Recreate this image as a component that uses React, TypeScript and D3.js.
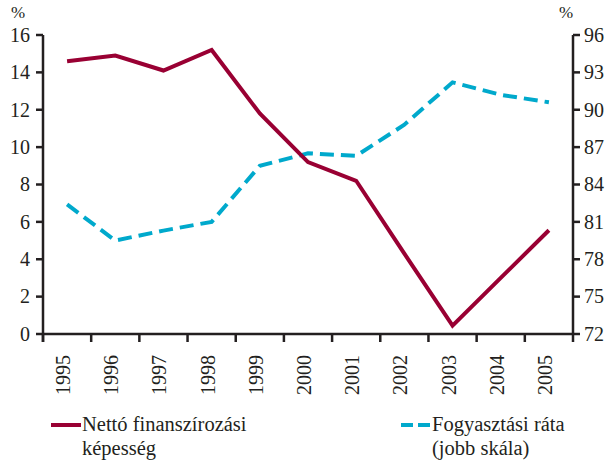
import React, { useEffect } from "react";
import * as d3 from "d3";

const W = 615;
const H = 460;

const years = ["1995", "1996", "1997", "1998", "1999", "2000", "2001", "2002", "2003", "2004", "2005"];
const nettoFin = [14.6, 14.9, 14.1, 15.2, 11.8, 9.2, 8.2, 4.3, 0.45, 3.0, 5.55];
const fogyRata = [82.4, 79.5, 80.3, 81.0, 85.5, 86.5, 86.3, 88.8, 92.2, 91.2, 90.6];
const leftTicks = [0, 2, 4, 6, 8, 10, 12, 14, 16];
const rightTicks = [72, 75, 78, 81, 84, 87, 90, 93, 96];

const RED = "#990033";
const BLUE = "#00a9cc";
const AXIS = "#231f20";
const FONT = "'Liberation Serif', 'Times New Roman', serif";

export default function App() {
  useEffect(() => {
    document.body.style.margin = "0";
  }, []);

  const x = d3.scaleBand<string>().domain(years).range([43, 573]);
  const yL = d3.scaleLinear().domain([0, 16]).range([334, 35]);
  const yR = d3.scaleLinear().domain([72, 96]).range([334, 35]);
  const cx = (y: string) => (x(y) ?? 0) + x.bandwidth() / 2;

  const redLine = d3.line<number>()
    .x((_, i) => cx(years[i]))
    .y(d => yL(d));
  const blueLine = d3.line<number>()
    .x((_, i) => cx(years[i]))
    .y(d => yR(d));

  const xEdges = years.map(y => x(y) ?? 0).concat([x.range()[1]]);

  return (
    <svg width={W} height={H} style={{ display: "block", fontFamily: FONT }}>
      <rect width={W} height={H} fill="#fff" />

      {/* lines */}
      <path d={blueLine(fogyRata) || ""} fill="none" stroke={BLUE} strokeWidth={4} strokeDasharray="14,7" />
      <path d={redLine(nettoFin) || ""} fill="none" stroke={RED} strokeWidth={4} strokeLinejoin="miter" />

      {/* left axis */}
      <line x1={43} x2={43} y1={yL(16)} y2={342} stroke={AXIS} strokeWidth={2.5} />
      {leftTicks.map(t => (
        <g key={"l" + t}>
          <line x1={36} x2={43} y1={yL(t)} y2={yL(t)} stroke={AXIS} strokeWidth={2.5} />
          <text x={30} y={yL(t)} dy="0.34em" textAnchor="end" fontSize={20} fill={AXIS}>{t}</text>
        </g>
      ))}
      <text x={11} y={18} fontSize={17} fill={AXIS}>%</text>

      {/* right axis */}
      <line x1={573} x2={573} y1={yR(96)} y2={yR(72)} stroke={AXIS} strokeWidth={2.5} />
      {rightTicks.map(t => (
        <g key={"r" + t}>
          <line x1={573} x2={580} y1={yR(t)} y2={yR(t)} stroke={AXIS} strokeWidth={2.5} />
          <text x={584} y={yR(t)} dy="0.34em" fontSize={20} fill={AXIS}>{t}</text>
        </g>
      ))}
      <text x={559} y={18} fontSize={17} fill={AXIS}>%</text>

      {/* bottom axis */}
      <line x1={43} x2={573} y1={334} y2={334} stroke={AXIS} strokeWidth={2.5} />
      {xEdges.map((e, i) => (
        <line key={"xt" + i} x1={e} x2={e} y1={334} y2={342} stroke={AXIS} strokeWidth={2.5} />
      ))}
      {years.map(y => (
        <text key={y} transform={`translate(${cx(y) + 3},355) rotate(-90)`} textAnchor="end"
          fontSize={20} fill={AXIS}>{y}</text>
      ))}

      {/* legend */}
      <line x1={51} x2={81} y1={425} y2={425} stroke={RED} strokeWidth={4} />
      <text x={82} y={431} fontSize={20.5} fill={AXIS}>Nettó finanszírozási</text>
      <text x={82} y={455} fontSize={20.5} fill={AXIS}>képesség</text>
      <line x1={401} x2={431} y1={425} y2={425} stroke={BLUE} strokeWidth={4} strokeDasharray="12,5" />
      <text x={432} y={431} fontSize={20.5} fill={AXIS}>Fogyasztási ráta</text>
      <text x={432} y={455} fontSize={20.5} fill={AXIS}>(jobb skála)</text>
    </svg>
  );
}
